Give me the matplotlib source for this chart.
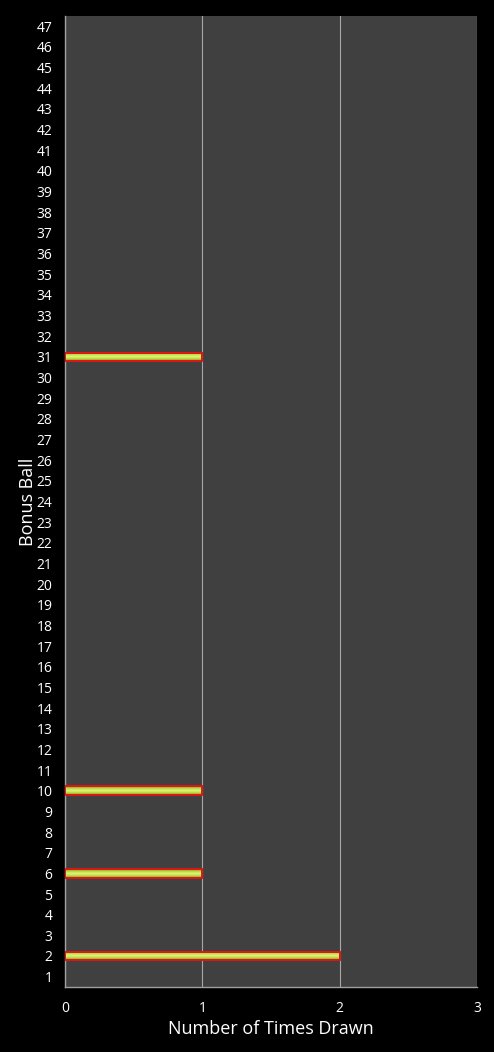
import matplotlib.pyplot as plt
import numpy as np
from matplotlib.colors import LinearSegmentedColormap

balls = list(range(1, 48))
drawn = {2: 2, 6: 1, 10: 1, 31: 1}
counts = [drawn.get(b, 0) for b in balls]
x_ticks = [0, 1, 2, 3]

plt.rcParams['font.family'] = ['Open Sans', 'DejaVu Sans']

fig = plt.figure(figsize=(4.94, 10.52), dpi=100, facecolor='black')
ax = fig.add_axes([0.1316, 0.0618, 0.834, 0.923])
ax.set_facecolor('#404040')

hit = [(b, c) for b, c in zip(balls, counts) if c > 0]
bars = ax.barh([b for b, _ in hit], [c for _, c in hit], height=0.42,
               facecolor='none', edgecolor='#e01414', linewidth=1.4, zorder=4)

# vertical gradient inside each bar: olive at edges, bright yellow-green centre
grad = np.abs(np.linspace(-1, 1, 64))[:, None]
cmap = LinearSegmentedColormap.from_list('g', ['#e0f478', '#b8d840', '#8c8c1c'])
for b in bars:
    y0 = b.get_y()
    ax.imshow(grad, cmap=cmap, aspect='auto', zorder=3, interpolation='bilinear',
              extent=(0, b.get_width(), y0, y0 + b.get_height()))

ax.set_xlim(0, 3)
ax.set_ylim(0.5, 47.5)
ax.set_xticks(x_ticks)
ax.set_yticks(balls)
ax.tick_params(colors='white', labelsize=10, length=0)
ax.tick_params(axis='y', pad=9)
ax.tick_params(axis='x', pad=10)
ax.xaxis.grid(True, color='#a8a8a8', linewidth=0.8, zorder=1)
ax.set_axisbelow(True)
for s in ['top', 'right']:
    ax.spines[s].set_visible(False)
for s in ['left', 'bottom']:
    ax.spines[s].set_color('#a0a0a0')
    ax.spines[s].set_linewidth(1)

ax.set_xlabel('Number of Times Drawn', color='white', fontsize=13, labelpad=3)
ax.set_ylabel('Bonus Ball', color='white', fontsize=13, labelpad=0)

fig.savefig('out.png', dpi=100, facecolor='black')
